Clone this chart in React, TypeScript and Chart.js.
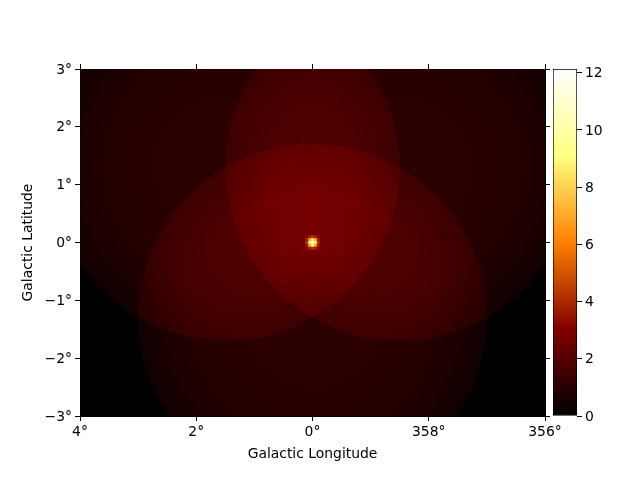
import React, { useEffect, useRef } from "react";
import { Chart, registerables } from "chart.js";

Chart.register(...registerables);

const lonTicks = [4, 2, 0, -2, -4];
const lonTickLabels = ["4°", "2°", "0°", "358°", "356°"];
const latTicks = [-3, -2, -1, 0, 1, 2, 3];
const latTickLabels = ["\u22123°", "\u22122°", "\u22121°", "0°", "1°", "2°", "3°"];
const colorbarTicks = [0, 2, 4, 6, 8, 10, 12];

// Three pointings (lon, lat in degrees)
const pointingLon = [1.5, -1.5, 0];
const pointingLat = [1.3, 1.3, -1.3];
// Radial exposure profile of one pointing: radius (deg) and map value inside it
const profileRadius = [3.0, 2.9, 2.8, 2.7, 2.6, 2.5, 2.4, 2.3, 2.2, 2.1, 2.0, 1.8, 1.6, 1.4, 1.2, 1.0];
const profileValue = [0.45, 0.5, 0.55, 0.6, 0.65, 0.7, 0.74, 0.78, 0.82, 0.85, 0.87, 0.91, 0.94, 0.96, 0.98, 1.0];

// Point source: cell offsets (deg) and values on the map grid
const spotOffsets = [-0.1, -0.05, 0, 0.05, 0.1];
const spotCellHalfWidth = 0.025;
const spotValues = [
  [3.3, 3.8, 4.3, 3.8, 3.3],
  [3.8, 7.0, 9.0, 7.0, 3.8],
  [4.3, 9.0, 12.1, 9.0, 4.3],
  [3.8, 7.0, 9.0, 7.0, 3.8],
  [3.3, 3.8, 4.3, 3.8, 3.3],
];

const colorValues = [0, 3.03, 6.07, 9.1, 12.13];
const colorStops = [
  [0, 0, 0],
  [128, 0, 0],
  [255, 128, 0],
  [255, 255, 128],
  [255, 255, 255],
];
const vmax = 12.13;

function colorFor(v: number): string {
  const t = Math.min(v, vmax);
  let i = 0;
  while (i < colorValues.length - 2 && t > colorValues[i + 1]) i++;
  const f = (t - colorValues[i]) / (colorValues[i + 1] - colorValues[i]);
  const c = colorStops[i].map((a, k) => Math.round(a + (colorStops[i + 1][k] - a) * f));
  return `rgb(${c[0]},${c[1]},${c[2]})`;
}

const FONT = { family: "'DejaVu Sans'", size: 13.9 };
const TICK_LEN = 5;

function fixSize(prop: "width" | "height", size: number) {
  return (scale: any) => {
    scale[prop] = size;
  };
}

// Paints each dataset's points from the positions the library's scales gave them;
// radii are in degrees and go through the same scales.
const mapLayers = {
  id: "mapLayers",
  beforeDatasetsDraw(chart: any) {
    const { ctx, chartArea: a } = chart;
    ctx.save();
    ctx.fillStyle = "#000";
    ctx.fillRect(a.left, a.top, a.right - a.left, a.bottom - a.top);
    ctx.restore();
  },
  beforeDatasetDraw(chart: any, args: any) {
    const { ctx, chartArea: a, scales } = chart;
    const ds = chart.data.datasets[args.index];
    const rx = Math.abs(scales.x.getPixelForValue(ds.radiusDeg) - scales.x.getPixelForValue(0));
    const ry = Math.abs(scales.y.getPixelForValue(ds.radiusDeg) - scales.y.getPixelForValue(0));
    ctx.save();
    ctx.beginPath();
    ctx.rect(a.left, a.top, a.right - a.left, a.bottom - a.top);
    ctx.clip();
    ctx.globalCompositeOperation = ds.additive ? "lighter" : "source-over";
    args.meta.data.forEach((el: any, i: number) => {
      const bg = ds.backgroundColor;
      ctx.fillStyle = Array.isArray(bg) ? bg[i] : bg;
      ctx.beginPath();
      if (ds.cell) ctx.rect(el.x - rx, el.y - ry, 2 * rx, 2 * ry);
      else ctx.ellipse(el.x, el.y, rx, ry, 0, 0, Math.PI * 2);
      ctx.fill();
    });
    ctx.restore();
    return false;
  },
};

export default function App() {
  const mainRef = useRef<HTMLCanvasElement>(null);
  const barRef = useRef<HTMLCanvasElement>(null);

  useEffect(() => {
    const ringDatasets = profileRadius.map((rad, i) => {
      const prev = i === 0 ? 0 : profileValue[i - 1];
      const delta = ((profileValue[i] - prev) / colorValues[1]) * colorStops[1][0];
      return {
        type: "bubble" as const,
        additive: true,
        radiusDeg: rad,
        data: pointingLon.map((x, k) => ({ x, y: pointingLat[k] })),
        backgroundColor: `rgb(${Math.max(1, Math.round(delta))},0,0)`,
      };
    });
    const spotData: any[] = [];
    const spotColors: string[] = [];
    spotOffsets.forEach((dy, r) =>
      spotOffsets.forEach((dx, c) => {
        spotData.push({ x: dx, y: -dy });
        spotColors.push(colorFor(spotValues[r][c]));
      })
    );
    const spotDataset = {
      type: "bubble" as const,
      cell: true,
      radiusDeg: spotCellHalfWidth,
      data: spotData,
      backgroundColor: spotColors,
    };

    const common = (title: string | null, pad: any) => ({
      grid: { drawOnChartArea: false, drawTicks: true, tickLength: TICK_LEN, tickColor: "#000", tickWidth: 1 },
      border: { color: "#000", width: 1 },
      title: title
        ? { display: true, text: title, color: "#000", font: FONT, padding: pad }
        : { display: false },
    });

    const main = new Chart(mainRef.current!, {
      type: "bubble",
      // drawn last-to-first: the source goes first in the list so it lands on top
      data: { datasets: [spotDataset, ...ringDatasets] as any },
      plugins: [mapLayers],
      options: {
        responsive: false,
        animation: false,
        events: [],
        layout: { padding: 0 },
        plugins: { legend: { display: false }, tooltip: { enabled: false } },
        scales: {
          x: {
            ...common("Galactic Longitude", { top: 0, bottom: 17 }),
            type: "linear",
            position: "bottom",
            reverse: true,
            min: -4,
            max: 4,
            afterBuildTicks: (s: any) => {
              s.ticks = lonTicks.map((value) => ({ value }));
            },
            ticks: {
              color: "#000",
              font: FONT,
              padding: 3,
              maxRotation: 0,
              autoSkip: false,
              callback: (v: any) => lonTickLabels[lonTicks.indexOf(Number(v))],
            },
            afterFit: fixSize("height", 64),
          },
          y: {
            ...common("Galactic Latitude", { top: 20, bottom: 0 }),
            type: "linear",
            position: "left",
            min: -3,
            max: 3,
            afterBuildTicks: (s: any) => {
              s.ticks = latTicks.map((value) => ({ value }));
            },
            ticks: {
              color: "#000",
              font: FONT,
              padding: 3,
              labelOffset: 1,
              autoSkip: false,
              callback: (v: any) => latTickLabels[latTicks.indexOf(Number(v))],
            },
            afterFit: fixSize("width", 80),
          },
          x2: {
            ...common(null, 0),
            type: "linear",
            axis: "x",
            position: "top",
            reverse: true,
            min: -4,
            max: 4,
            afterBuildTicks: (s: any) => {
              s.ticks = lonTicks.map((value) => ({ value }));
            },
            ticks: { display: false },
            afterFit: fixSize("height", 69),
          },
          y2: {
            ...common(null, 0),
            type: "linear",
            axis: "y",
            position: "right",
            min: -3,
            max: 3,
            afterBuildTicks: (s: any) => {
              s.ticks = latTicks.map((value) => ({ value }));
            },
            ticks: { display: false },
            afterFit: fixSize("width", 95),
          },
        } as any,
      },
    });

    const bar = new Chart(barRef.current!, {
      type: "bar",
      data: {
        labels: ["colorbar"],
        datasets: [
          {
            data: [[0, vmax]] as any,
            barPercentage: 1,
            categoryPercentage: 1,
            borderColor: "#000",
            borderWidth: 1,
            borderSkipped: false,
            backgroundColor: (ctx: any) => {
              const a = ctx.chart.chartArea;
              if (!a) return "#000";
              const g = ctx.chart.ctx.createLinearGradient(0, a.bottom, 0, a.top);
              colorValues.forEach((v, i) => {
                const c = colorStops[i];
                g.addColorStop(v / vmax, `rgb(${c[0]},${c[1]},${c[2]})`);
              });
              return g;
            },
          },
        ],
      },
      options: {
        responsive: false,
        animation: false,
        events: [],
        layout: { padding: { left: 553, top: 69, bottom: 64 } },
        plugins: { legend: { display: false }, tooltip: { enabled: false } },
        scales: {
          x: { display: false },
          y: {
            position: "right",
            min: 0,
            max: vmax,
            afterBuildTicks: (s: any) => {
              s.ticks = colorbarTicks.map((value) => ({ value }));
            },
            grid: { drawOnChartArea: false, tickLength: TICK_LEN, tickColor: "#000", tickWidth: 1 },
            border: { display: false },
            ticks: { color: "#000", font: FONT, padding: 3, labelOffset: 1, autoSkip: false },
            afterFit: fixSize("width", 63),
          },
        } as any,
      },
    });

    return () => {
      main.destroy();
      bar.destroy();
    };
  }, []);

  return (
    <div style={{ position: "absolute", left: 0, top: 0, width: 640, height: 480, background: "#fff" }}>
      <canvas ref={mainRef} width={640} height={480} style={{ position: "absolute", left: 0, top: 0, display: "block" }} />
      <canvas ref={barRef} width={640} height={480} style={{ position: "absolute", left: 0, top: 0, display: "block" }} />
    </div>
  );
}
